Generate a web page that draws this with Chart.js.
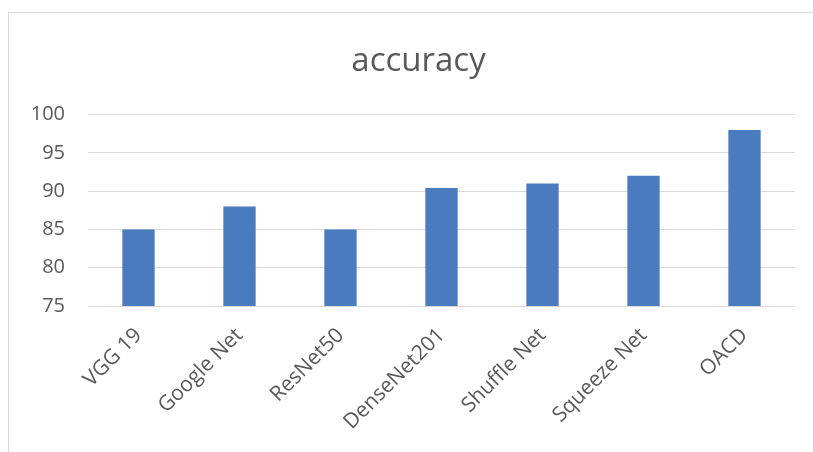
<!DOCTYPE html>
<html>
<head>
<meta charset="utf-8">
<script src="https://cdn.jsdelivr.net/npm/chart.js@4"></script>
<style>
  body { margin: 0; background: #fff; }
  #frame { position: absolute; left: 8px; top: 12px; width: 900px; height: 500px; border: 1px solid #d9d9d9; }
  #accChart { position: absolute; left: 0; top: 0; }
</style>
</head>
<body>
<div id="frame"></div>
<canvas id="accChart" width="813" height="452"></canvas>
<script>
const models = ['VGG 19', 'Google Net', 'ResNet50', 'DenseNet201', 'Shuffle Net', 'Squeeze Net', 'OACD'];
const accuracy = [85, 88, 85, 90.4, 91, 92, 98];
const yTicks = [75, 80, 85, 90, 95, 100];

// y scale sits partly inside the left padding, so widen its label clip area
const unclipY = {
    id: 'unclipY',
    afterLayout(chart) { chart.scales.y.left = 0; }
};

const ctx = document.getElementById('accChart').getContext('2d');
const accChart = new Chart(ctx, {
    type: 'bar',
    data: {
        labels: models,
        datasets: [{
            label: 'accuracy',
            data: accuracy,
            backgroundColor: '#4a7bbf',
            categoryPercentage: 0.4,
            barPercentage: 0.8
        }]
    },
    options: {
        responsive: false,
        animation: false,
        // left padding keeps the title centred on the (cropped) chart frame
        layout: { padding: { left: 42, right: 18, top: 0, bottom: 0 } },
        plugins: {
            legend: { display: false },
            tooltip: { enabled: false },
            title: {
                display: true,
                text: 'accuracy',
                color: '#595959',
                font: { family: 'Open Sans', size: 33, weight: 'normal', lineHeight: 1.2 },
                padding: { top: 42, bottom: 33 }
            }
        },
        scales: {
            x: {
                grid: { display: false },
                border: { display: false },
                ticks: {
                    color: '#595959',
                    font: { family: 'Open Sans', size: 21 },
                    minRotation: 45,
                    maxRotation: 45,
                    padding: 9
                },
                afterFit: (scale) => { scale.height = 146; }
            },
            y: {
                min: 75,
                max: 100,
                afterBuildTicks: (scale) => { scale.ticks = yTicks.map(v => ({ value: v })); },
                grid: { color: '#d9d9d9', lineWidth: 1, drawTicks: false },
                border: { display: false },
                ticks: {
                    color: '#595959',
                    font: { family: 'Open Sans', size: 20 },
                    padding: 23
                },
                afterFit: (scale) => { scale.width = 46; }
            }
        }
    },
    plugins: [unclipY]
});
</script>
</body>
</html>
